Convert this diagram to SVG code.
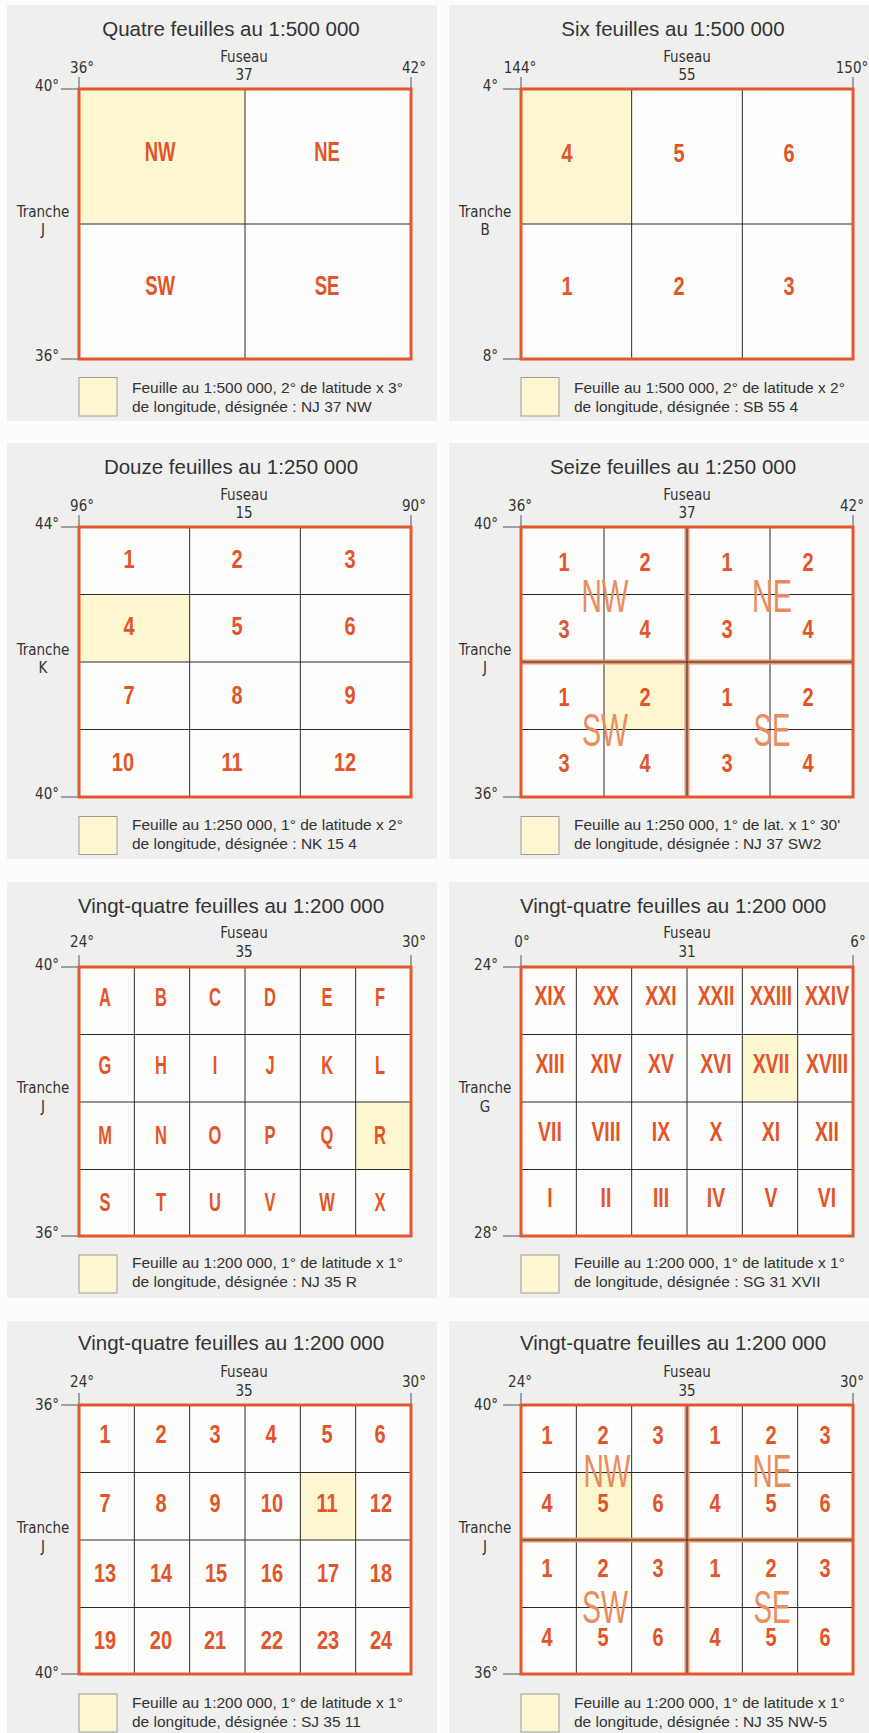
<svg xmlns="http://www.w3.org/2000/svg" width="869" height="1733" viewBox="0 0 869 1733">
<style>
.page{fill:#fcfcfb}
.bg{fill:#efefee}
.cell{fill:#fdfdfc}
.hl{fill:#fdf7d1}
.frame{fill:none;stroke:#e4562c;stroke-width:3}
.ln{stroke:#2a2a2a;stroke-width:1;fill:none}
.mid{stroke:#e9936a;stroke-width:5;fill:none}
.tick{stroke:#555;stroke-width:1;fill:none}
.title{font-family:"Liberation Sans",Arial,sans-serif;font-size:20.5px;fill:#333;text-anchor:middle}
.ax{font-family:"Liberation Sans Narrow","DejaVu Sans Condensed","Liberation Sans",sans-serif;font-stretch:condensed;font-size:15px;fill:#333;text-anchor:middle}
.axe{text-anchor:end}
.lbl{font-family:"Liberation Sans",Arial,sans-serif;font-weight:bold;font-size:25px;fill:#e2552a;text-anchor:middle;transform-box:fill-box;transform-origin:center;transform:scaleX(0.8)}
.let{transform:scaleX(0.66)}
.big{font-size:28px}
.rom{font-size:27px;transform:scaleX(0.72)}
.quad{font-family:"Liberation Sans",Arial,sans-serif;font-size:46px;fill:#ea8c5d;text-anchor:middle}
.leg{font-family:"Liberation Sans",Arial,sans-serif;font-size:15.5px;fill:#333}
.sw{fill:#fdf7d1;stroke:#9a9a9a;stroke-width:1}
</style>
<rect class="page" width="869" height="1733"/>

<!-- Panel 1 -->
<g id="p1" transform="translate(79,89)">
<rect class="bg" x="-72" y="-84" width="430" height="416"/>
<text class="title" x="152" y="-53">Quatre feuilles au 1:500 000</text>
<text class="ax" x="165" y="-27">Fuseau</text>
<text class="ax" x="165" y="-9">37</text>
<text class="ax" x="3" y="-16">36°</text>
<text class="ax" x="335" y="-16">42°</text>
<text class="ax axe" x="-20" y="2">40°</text>
<text class="ax axe" x="-20" y="272">36°</text>
<text class="ax" x="-36" y="128">Tranche</text>
<text class="ax" x="-36" y="146">J</text>
<path class="tick" d="M0,-12V0M332,-12V0M-18,0H0M-18,270H0"/>
<rect class="cell" width="332" height="270"/>
<rect class="hl" width="166" height="135"/>
<path class="ln" d="M166,0V270M0,135H332"/>
<rect class="frame" width="332" height="270"/>
<g id="p1-labels">
<text class="lbl let big" x="81" y="72">NW</text>
<text class="lbl let big" x="248" y="72">NE</text>
<text class="lbl let big" x="81" y="206">SW</text>
<text class="lbl let big" x="248" y="206">SE</text>
</g>
<rect class="sw" x="0" y="288.5" width="38" height="38.5"/>
<text class="leg" x="53" y="304">Feuille au 1:500 000, 2° de latitude x 3°</text>
<text class="leg" x="53" y="323">de longitude, désignée : NJ 37 NW</text>
</g>

<!-- Panel 2 -->
<g id="p2" transform="translate(521,89)">
<rect class="bg" x="-72" y="-84" width="430" height="416"/>
<text class="title" x="152" y="-53">Six feuilles au 1:500 000</text>
<text class="ax" x="166" y="-27">Fuseau</text>
<text class="ax" x="166" y="-9">55</text>
<text class="ax" x="-1" y="-16">144°</text>
<text class="ax" x="331" y="-16">150°</text>
<text class="ax axe" x="-23" y="2">4°</text>
<text class="ax axe" x="-23" y="272">8°</text>
<text class="ax" x="-36" y="128">Tranche</text>
<text class="ax" x="-36" y="146">B</text>
<path class="tick" d="M0,-12V0M332,-12V0M-18,0H0M-18,270H0"/>
<rect class="cell" width="332" height="270"/>
<rect class="hl" width="110.67" height="135"/>
<path class="ln" d="M110.67,0V270M221.33,0V270M0,135H332"/>
<rect class="frame" width="332" height="270"/>
<g id="p2-labels">
<text class="lbl" x="46" y="73">4</text>
<text class="lbl" x="158" y="73">5</text>
<text class="lbl" x="268" y="73">6</text>
<text class="lbl" x="46" y="206">1</text>
<text class="lbl" x="158" y="206">2</text>
<text class="lbl" x="268" y="206">3</text>
</g>
<rect class="sw" x="0" y="288.5" width="38" height="38.5"/>
<text class="leg" x="53" y="304">Feuille au 1:500 000, 2° de latitude x 2°</text>
<text class="leg" x="53" y="323">de longitude, désignée : SB 55 4</text>
</g>

<!-- Panel 3 -->
<g id="p3" transform="translate(79,527)">
<rect class="bg" x="-72" y="-84" width="430" height="416"/>
<text class="title" x="152" y="-53">Douze feuilles au 1:250 000</text>
<text class="ax" x="165" y="-27">Fuseau</text>
<text class="ax" x="165" y="-9">15</text>
<text class="ax" x="3" y="-16">96°</text>
<text class="ax" x="335" y="-16">90°</text>
<text class="ax axe" x="-20" y="2">44°</text>
<text class="ax axe" x="-20" y="272">40°</text>
<text class="ax" x="-36" y="128">Tranche</text>
<text class="ax" x="-36" y="146">K</text>
<path class="tick" d="M0,-12V0M332,-12V0M-18,0H0M-18,270H0"/>
<rect class="cell" width="332" height="270"/>
<rect class="hl" y="67.5" width="110.67" height="67.5"/>
<path class="ln" d="M110.67,0V270M221.33,0V270M0,67.5H332M0,135H332M0,202.5H332"/>
<rect class="frame" width="332" height="270"/>
<g id="p3-labels">
<text class="lbl" x="50" y="41">1</text>
<text class="lbl" x="158" y="41">2</text>
<text class="lbl" x="271" y="41">3</text>
<text class="lbl" x="50" y="108">4</text>
<text class="lbl" x="158" y="108">5</text>
<text class="lbl" x="271" y="108">6</text>
<text class="lbl" x="50" y="177">7</text>
<text class="lbl" x="158" y="177">8</text>
<text class="lbl" x="271" y="177">9</text>
<text class="lbl" x="44" y="244">10</text>
<text class="lbl" x="153" y="244">11</text>
<text class="lbl" x="266" y="244">12</text>
</g>
<rect class="sw" x="0" y="289.5" width="38" height="38"/>
<text class="leg" x="53" y="303">Feuille au 1:250 000, 1° de latitude x 2°</text>
<text class="leg" x="53" y="322">de longitude, désignée : NK 15 4</text>
</g>

<!-- Panel 4 -->
<g id="p4" transform="translate(521,527)">
<rect class="bg" x="-72" y="-84" width="430" height="416"/>
<text class="title" x="152" y="-53">Seize feuilles au 1:250 000</text>
<text class="ax" x="166" y="-27">Fuseau</text>
<text class="ax" x="166" y="-9">37</text>
<text class="ax" x="-1" y="-16">36°</text>
<text class="ax" x="331" y="-16">42°</text>
<text class="ax axe" x="-23" y="2">40°</text>
<text class="ax axe" x="-23" y="272">36°</text>
<text class="ax" x="-36" y="128">Tranche</text>
<text class="ax" x="-36" y="146">J</text>
<path class="tick" d="M0,-12V0M332,-12V0M-18,0H0M-18,270H0"/>
<rect class="cell" width="332" height="270"/>
<rect class="hl" x="83" y="135" width="83" height="67.5"/>
<path class="ln" d="M83,0V270M249,0V270M0,67.5H332M0,202.5H332"/>
<path class="mid" d="M166,0V270M0,135H332"/>
<path class="ln" d="M166,0V270M0,135H332"/>
<rect class="frame" width="332" height="270"/>
<g id="p4-labels">
<text class="lbl" x="43" y="44">1</text>
<text class="lbl" x="124" y="44">2</text>
<text class="lbl" x="206" y="44">1</text>
<text class="lbl" x="287" y="44">2</text>
<text class="lbl" x="43" y="111">3</text>
<text class="lbl" x="124" y="111">4</text>
<text class="lbl" x="206" y="111">3</text>
<text class="lbl" x="287" y="111">4</text>
<text class="lbl" x="43" y="179">1</text>
<text class="lbl" x="124" y="179">2</text>
<text class="lbl" x="206" y="179">1</text>
<text class="lbl" x="287" y="179">2</text>
<text class="lbl" x="43" y="245">3</text>
<text class="lbl" x="124" y="245">4</text>
<text class="lbl" x="206" y="245">3</text>
<text class="lbl" x="287" y="245">4</text>
</g>
<g id="p4-quads">
<text class="quad" x="84" y="85" textLength="47" lengthAdjust="spacingAndGlyphs">NW</text>
<text class="quad" x="251" y="85" textLength="40" lengthAdjust="spacingAndGlyphs">NE</text>
<text class="quad" x="84" y="219" textLength="46" lengthAdjust="spacingAndGlyphs">SW</text>
<text class="quad" x="251" y="219" textLength="37" lengthAdjust="spacingAndGlyphs">SE</text>
</g>
<rect class="sw" x="0" y="289.5" width="38" height="38"/>
<text class="leg" x="53" y="303">Feuille au 1:250 000, 1° de lat. x 1° 30'</text>
<text class="leg" x="53" y="322">de longitude, désignée : NJ 37 SW2</text>
</g>

<!-- Panel 5 -->
<g id="p5" transform="translate(79,967)">
<rect class="bg" x="-72" y="-85" width="430" height="416"/>
<text class="title" x="152" y="-54">Vingt-quatre feuilles au 1:200 000</text>
<text class="ax" x="165" y="-29">Fuseau</text>
<text class="ax" x="165" y="-10">35</text>
<text class="ax" x="3" y="-20">24°</text>
<text class="ax" x="335" y="-20">30°</text>
<text class="ax axe" x="-20" y="3">40°</text>
<text class="ax axe" x="-20" y="271">36°</text>
<text class="ax" x="-36" y="126">Tranche</text>
<text class="ax" x="-36" y="145">J</text>
<path class="tick" d="M0,-12V0M332,-12V0M-18,0H0M-18,269H0"/>
<rect class="cell" width="332" height="269"/>
<rect class="hl" x="276.67" y="135" width="55.33" height="67.5"/>
<path class="ln" d="M55.33,0V269M110.67,0V269M166,0V269M221.33,0V269M276.67,0V269M0,67.5H332M0,135H332M0,202.5H332"/>
<rect class="frame" width="332" height="269"/>
<g id="p5-labels">
<text class="lbl let" x="26" y="39">A</text>
<text class="lbl let" x="82" y="39">B</text>
<text class="lbl let" x="136" y="39">C</text>
<text class="lbl let" x="191" y="39">D</text>
<text class="lbl let" x="248" y="39">E</text>
<text class="lbl let" x="301" y="39">F</text>
<text class="lbl let" x="26" y="107">G</text>
<text class="lbl let" x="82" y="107">H</text>
<text class="lbl let" x="136" y="107">I</text>
<text class="lbl let" x="191" y="107">J</text>
<text class="lbl let" x="248" y="107">K</text>
<text class="lbl let" x="301" y="107">L</text>
<text class="lbl let" x="26" y="177">M</text>
<text class="lbl let" x="82" y="177">N</text>
<text class="lbl let" x="136" y="177">O</text>
<text class="lbl let" x="191" y="177">P</text>
<text class="lbl let" x="248" y="177">Q</text>
<text class="lbl let" x="301" y="177">R</text>
<text class="lbl let" x="26" y="244">S</text>
<text class="lbl let" x="82" y="244">T</text>
<text class="lbl let" x="136" y="244">U</text>
<text class="lbl let" x="191" y="244">V</text>
<text class="lbl let" x="248" y="244">W</text>
<text class="lbl let" x="301" y="244">X</text>
</g>
<rect class="sw" x="0" y="288" width="38" height="38"/>
<text class="leg" x="53" y="301">Feuille au 1:200 000, 1° de latitude x 1°</text>
<text class="leg" x="53" y="320">de longitude, désignée : NJ 35 R</text>
</g>

<!-- Panel 6 -->
<g id="p6" transform="translate(521,967)">
<rect class="bg" x="-72" y="-85" width="430" height="416"/>
<text class="title" x="152" y="-54">Vingt-quatre feuilles au 1:200 000</text>
<text class="ax" x="166" y="-29">Fuseau</text>
<text class="ax" x="166" y="-10">31</text>
<text class="ax" x="1" y="-20">0°</text>
<text class="ax" x="337" y="-20">6°</text>
<text class="ax axe" x="-23" y="3">24°</text>
<text class="ax axe" x="-23" y="271">28°</text>
<text class="ax" x="-36" y="126">Tranche</text>
<text class="ax" x="-36" y="145">G</text>
<path class="tick" d="M0,-12V0M332,-12V0M-18,0H0M-18,269H0"/>
<rect class="cell" width="332" height="269"/>
<rect class="hl" x="221.33" y="67.5" width="55.33" height="67.5"/>
<path class="ln" d="M55.33,0V269M110.67,0V269M166,0V269M221.33,0V269M276.67,0V269M0,67.5H332M0,135H332M0,202.5H332"/>
<rect class="frame" width="332" height="269"/>
<g id="p6-labels">
<text class="lbl rom" x="29" y="38">XIX</text>
<text class="lbl rom" x="85" y="38">XX</text>
<text class="lbl rom" x="140" y="38">XXI</text>
<text class="lbl rom" x="195" y="38">XXII</text>
<text class="lbl rom" x="250" y="38">XXIII</text>
<text class="lbl rom" x="306" y="38">XXIV</text>
<text class="lbl rom" x="29" y="106">XIII</text>
<text class="lbl rom" x="85" y="106">XIV</text>
<text class="lbl rom" x="140" y="106">XV</text>
<text class="lbl rom" x="195" y="106">XVI</text>
<text class="lbl rom" x="250" y="106">XVII</text>
<text class="lbl rom" x="306" y="106">XVIII</text>
<text class="lbl rom" x="29" y="174">VII</text>
<text class="lbl rom" x="85" y="174">VIII</text>
<text class="lbl rom" x="140" y="174">IX</text>
<text class="lbl rom" x="195" y="174">X</text>
<text class="lbl rom" x="250" y="174">XI</text>
<text class="lbl rom" x="306" y="174">XII</text>
<text class="lbl rom" x="29" y="240">I</text>
<text class="lbl rom" x="85" y="240">II</text>
<text class="lbl rom" x="140" y="240">III</text>
<text class="lbl rom" x="195" y="240">IV</text>
<text class="lbl rom" x="250" y="240">V</text>
<text class="lbl rom" x="306" y="240">VI</text>
</g>
<rect class="sw" x="0" y="288" width="38" height="38"/>
<text class="leg" x="53" y="301">Feuille au 1:200 000, 1° de latitude x 1°</text>
<text class="leg" x="53" y="320">de longitude, désignée : SG 31 XVII</text>
</g>

<!-- Panel 7 -->
<g id="p7" transform="translate(79,1405)">
<rect class="bg" x="-72" y="-84" width="430" height="416"/>
<text class="title" x="152" y="-55">Vingt-quatre feuilles au 1:200 000</text>
<text class="ax" x="165" y="-28">Fuseau</text>
<text class="ax" x="165" y="-9">35</text>
<text class="ax" x="3" y="-18">24°</text>
<text class="ax" x="335" y="-18">30°</text>
<text class="ax axe" x="-20" y="5">36°</text>
<text class="ax axe" x="-20" y="273">40°</text>
<text class="ax" x="-36" y="128">Tranche</text>
<text class="ax" x="-36" y="147">J</text>
<path class="tick" d="M0,-12V0M332,-12V0M-18,0H0M-18,269H0"/>
<rect class="cell" width="332" height="269"/>
<rect class="hl" x="221.33" y="67.5" width="55.33" height="67.5"/>
<path class="ln" d="M55.33,0V269M110.67,0V269M166,0V269M221.33,0V269M276.67,0V269M0,67.5H332M0,135H332M0,202.5H332"/>
<rect class="frame" width="332" height="269"/>
<g id="p7-labels">
<text class="lbl" x="26" y="38">1</text>
<text class="lbl" x="82" y="38">2</text>
<text class="lbl" x="136" y="38">3</text>
<text class="lbl" x="192" y="38">4</text>
<text class="lbl" x="248" y="38">5</text>
<text class="lbl" x="301" y="38">6</text>
<text class="lbl" x="26" y="107">7</text>
<text class="lbl" x="82" y="107">8</text>
<text class="lbl" x="136" y="107">9</text>
<text class="lbl" x="193" y="107">10</text>
<text class="lbl" x="248" y="107">11</text>
<text class="lbl" x="302" y="107">12</text>
<text class="lbl" x="26" y="177">13</text>
<text class="lbl" x="82" y="177">14</text>
<text class="lbl" x="137" y="177">15</text>
<text class="lbl" x="193" y="177">16</text>
<text class="lbl" x="249" y="177">17</text>
<text class="lbl" x="302" y="177">18</text>
<text class="lbl" x="26" y="244">19</text>
<text class="lbl" x="82" y="244">20</text>
<text class="lbl" x="136" y="244">21</text>
<text class="lbl" x="193" y="244">22</text>
<text class="lbl" x="249" y="244">23</text>
<text class="lbl" x="302" y="244">24</text>
</g>
<rect class="sw" x="0" y="289" width="38" height="38"/>
<text class="leg" x="53" y="303">Feuille au 1:200 000, 1° de latitude x 1°</text>
<text class="leg" x="53" y="322">de longitude, désignée : SJ 35 11</text>
</g>

<!-- Panel 8 -->
<g id="p8" transform="translate(521,1405)">
<rect class="bg" x="-72" y="-84" width="430" height="416"/>
<text class="title" x="152" y="-55">Vingt-quatre feuilles au 1:200 000</text>
<text class="ax" x="166" y="-28">Fuseau</text>
<text class="ax" x="166" y="-9">35</text>
<text class="ax" x="-1" y="-18">24°</text>
<text class="ax" x="331" y="-18">30°</text>
<text class="ax axe" x="-23" y="5">40°</text>
<text class="ax axe" x="-23" y="273">36°</text>
<text class="ax" x="-36" y="128">Tranche</text>
<text class="ax" x="-36" y="147">J</text>
<path class="tick" d="M0,-12V0M332,-12V0M-18,0H0M-18,269H0"/>
<rect class="cell" width="332" height="269"/>
<rect class="hl" x="55.33" y="67.5" width="55.33" height="67.5"/>
<path class="ln" d="M55.33,0V269M110.67,0V269M221.33,0V269M276.67,0V269M0,67.5H332M0,202.5H332"/>
<path class="mid" d="M166,0V269M0,135H332"/>
<path class="ln" d="M166,0V269M0,135H332"/>
<rect class="frame" width="332" height="269"/>
<g id="p8-labels">
<text class="lbl" x="26" y="39">1</text>
<text class="lbl" x="82" y="39">2</text>
<text class="lbl" x="137" y="39">3</text>
<text class="lbl" x="194" y="39">1</text>
<text class="lbl" x="250" y="39">2</text>
<text class="lbl" x="304" y="39">3</text>
<text class="lbl" x="26" y="107">4</text>
<text class="lbl" x="82" y="107">5</text>
<text class="lbl" x="137" y="107">6</text>
<text class="lbl" x="194" y="107">4</text>
<text class="lbl" x="250" y="107">5</text>
<text class="lbl" x="304" y="107">6</text>
<text class="lbl" x="26" y="172">1</text>
<text class="lbl" x="82" y="172">2</text>
<text class="lbl" x="137" y="172">3</text>
<text class="lbl" x="194" y="172">1</text>
<text class="lbl" x="250" y="172">2</text>
<text class="lbl" x="304" y="172">3</text>
<text class="lbl" x="26" y="241">4</text>
<text class="lbl" x="82" y="241">5</text>
<text class="lbl" x="137" y="241">6</text>
<text class="lbl" x="194" y="241">4</text>
<text class="lbl" x="250" y="241">5</text>
<text class="lbl" x="304" y="241">6</text>
</g>
<g id="p8-quads">
<text class="quad" x="86" y="82" textLength="47" lengthAdjust="spacingAndGlyphs">NW</text>
<text class="quad" x="251" y="82" textLength="39" lengthAdjust="spacingAndGlyphs">NE</text>
<text class="quad" x="84" y="218" textLength="46" lengthAdjust="spacingAndGlyphs">SW</text>
<text class="quad" x="251" y="218" textLength="37" lengthAdjust="spacingAndGlyphs">SE</text>
</g>
<rect class="sw" x="0" y="289" width="38" height="38"/>
<text class="leg" x="53" y="303">Feuille au 1:200 000, 1° de latitude x 1°</text>
<text class="leg" x="53" y="322">de longitude, désignée : NJ 35 NW-5</text>
</g>
</svg>
